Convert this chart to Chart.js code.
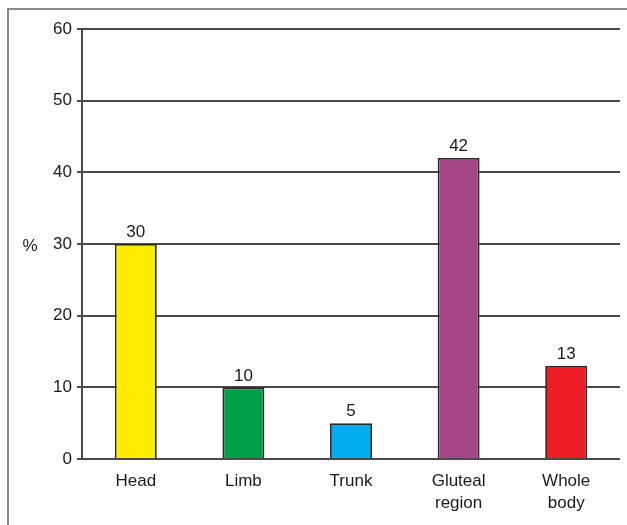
<!DOCTYPE html>
<html>
<head>
<meta charset="utf-8">
<script src="https://cdn.jsdelivr.net/npm/chart.js@4"></script>
<style>
  html, body { margin: 0; padding: 0; background: #fff; }
  #wrap { width: 627px; height: 525px; }
</style>
</head>
<body>
<div id="wrap"><canvas id="myChart" width="627" height="525"></canvas></div>
<script>
const categories = ['Head', 'Limb', 'Trunk', ['Gluteal', 'region'], ['Whole', 'body']]
const values = [30, 10, 5, 42, 13]
const barColors = ['#FFED00', '#00A04B', '#00AEEF', '#A54686', '#EE1C25']
const yTicks = [0, 10, 20, 30, 40, 50, 60]

const FONT = '"Liberation Sans", Arial, sans-serif'

// frame lines, % label and the numbers above the bars
const extras = {
    id: 'extras',
    afterDraw(chart) {
        const ctx = chart.ctx
        ctx.save()
        ctx.strokeStyle = '#8a8a8a'
        ctx.lineWidth = 2
        ctx.beginPath()
        ctx.moveTo(8, 525)
        ctx.lineTo(8, 9)
        ctx.lineTo(627, 9)
        ctx.stroke()

        ctx.fillStyle = '#1a1a1a'
        ctx.font = '17px ' + FONT
        ctx.textAlign = 'center'
        ctx.textBaseline = 'middle'
        ctx.fillText('%', 30, 246)

        ctx.textBaseline = 'bottom'
        const meta = chart.getDatasetMeta(0)
        meta.data.forEach((bar, i) => {
            ctx.fillText(String(values[i]), bar.x, bar.y - 3)
        })
        ctx.restore()
    }
}

const ctx = document.getElementById('myChart').getContext('2d')
const myChart = new Chart(ctx, {
    type: 'bar',
    data: {
        labels: categories,
        datasets: [{
            data: values,
            backgroundColor: barColors,
            borderColor: '#2a2a2a',
            borderWidth: 1.8,
            barPercentage: 0.39,
            categoryPercentage: 1
        }]
    },
    options: {
        responsive: false,
        animation: false,
        layout: { padding: { top: 29, right: 7, left: 0, bottom: 0 } },
        plugins: { legend: { display: false }, tooltip: { enabled: false } },
        scales: {
            x: {
                grid: { display: false, drawTicks: false },
                border: { display: false },
                ticks: {
                    color: '#1a1a1a',
                    font: { family: FONT, size: 17, lineHeight: 1.3 },
                    padding: 11,
                    maxRotation: 0,
                    autoSkip: false
                },
                afterFit(s) { s.height = 66 }
            },
            y: {
                min: 0,
                max: 60,
                afterBuildTicks(s) { s.ticks = yTicks.map(v => ({ value: v })) },
                grid: { color: '#4a4a4a', lineWidth: 2, tickLength: 5, tickColor: '#4a4a4a' },
                border: { display: true, color: '#4a4a4a', width: 2 },
                ticks: {
                    color: '#1a1a1a',
                    padding: 5,
                    font: { family: FONT, size: 17 }
                },
                afterFit(s) { s.width = 82 }
            }
        }
    },
    plugins: [extras]
})
</script>
</body>
</html>
